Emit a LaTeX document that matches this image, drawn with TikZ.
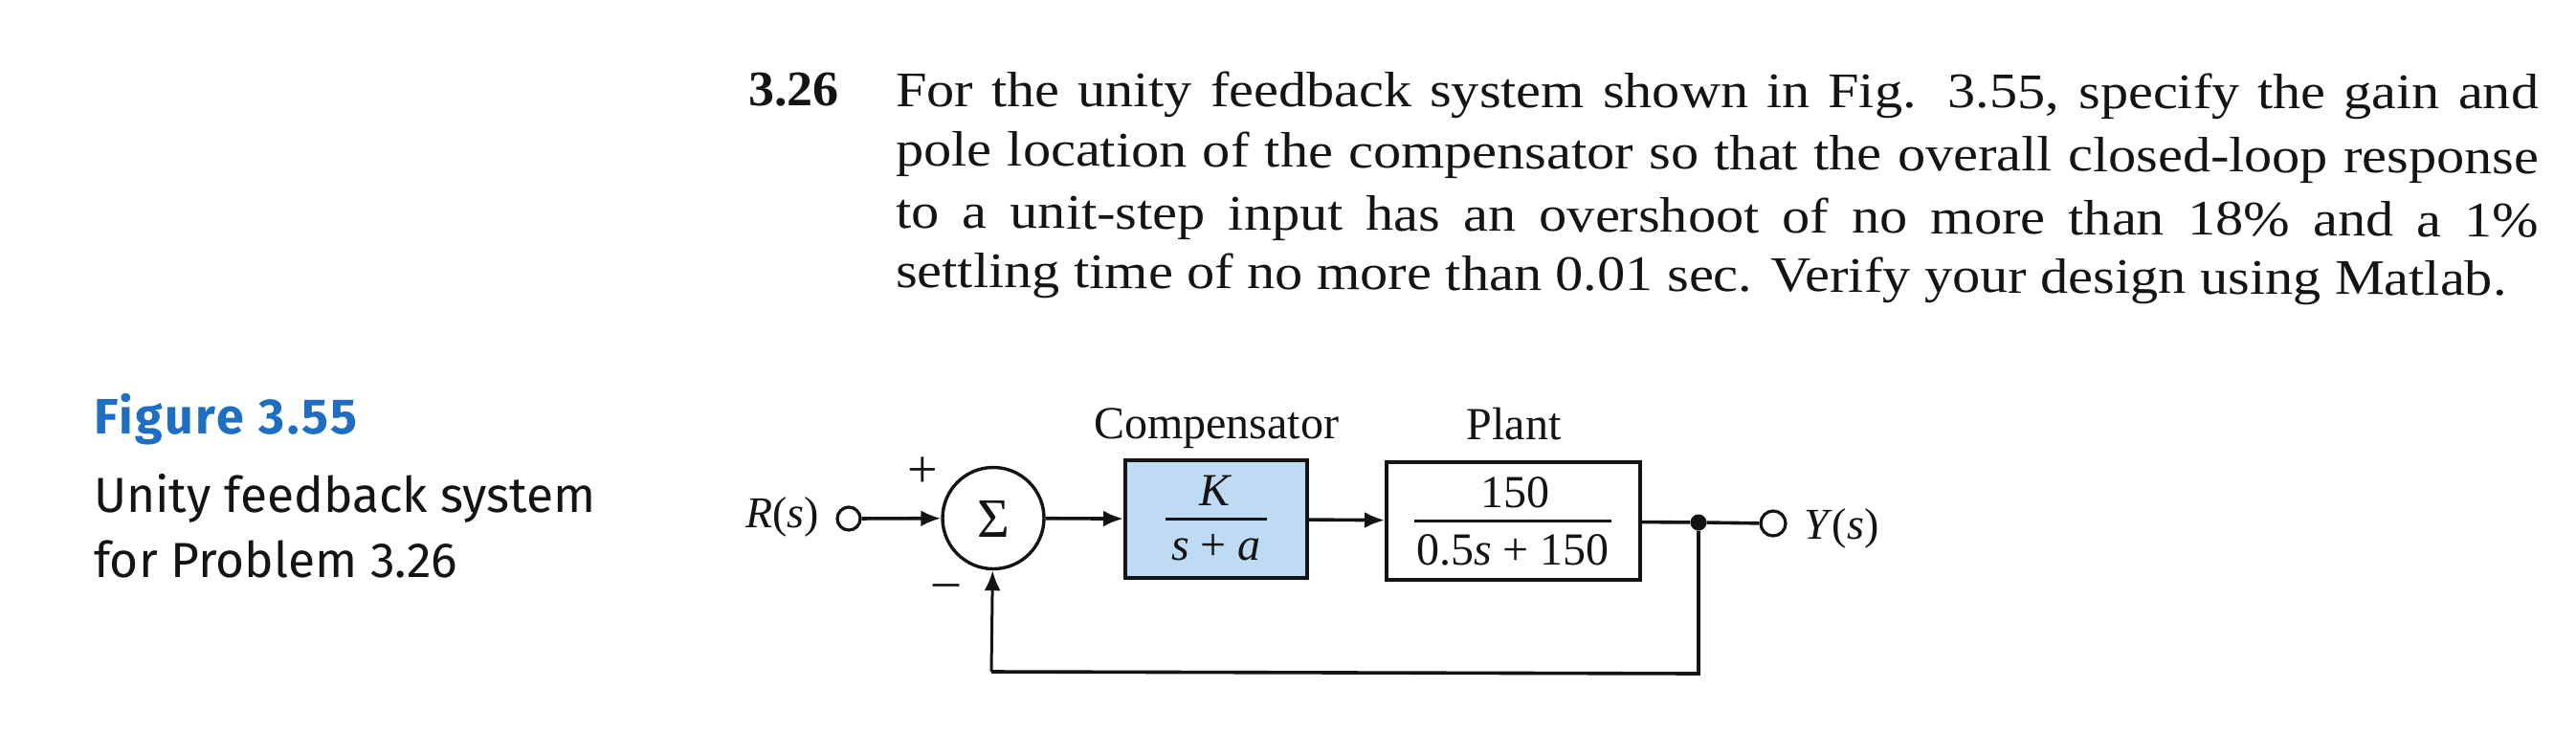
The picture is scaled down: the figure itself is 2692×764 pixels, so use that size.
\documentclass[tikz,border=0pt]{standalone}
\usepackage{fontspec}
\setmainfont{Liberation Serif}
\newfontfamily\capfont{Fira Sans}
\usetikzlibrary{arrows.meta}
\definecolor{capblue}{HTML}{1E6FC4}
\definecolor{compblue}{HTML}{BFDBF3}
\definecolor{inkc}{HTML}{141414}
\newcommand{\probline}[2]{\scalebox{1.12}[1]{\hbox to #1pt{#2}}}
\tikzset{
  prob/.style={anchor=base west,inner sep=0pt,text=inkc,font=\fontsize{52}{56}\selectfont},
  lab/.style={anchor=base,inner sep=0pt,text=inkc,font=\fontsize{48}{50}\selectfont},
  captext/.style={anchor=base west,inner sep=0pt,font=\capfont\fontsize{51.5}{56}\selectfont},
  block/.style={draw=inkc,line width=4pt,inner sep=0pt,anchor=center},
  port/.style={draw=inkc,line width=3.2pt,circle,inner sep=0pt,minimum size=24pt,fill=white},
  sig/.style={draw=inkc,line width=3.6pt,-{Latex[length=21pt,width=17pt]}},
  wire/.style={draw=inkc,line width=3.6pt},
  fracbar/.style={draw=inkc,line width=3pt},
}
\begin{document}
\begin{tikzpicture}[x=1pt,y=-1pt]
\useasboundingbox (0,0) rectangle (2692,764);
% problem text
\node[prob,font=\bfseries\fontsize{52}{56}\selectfont] (num) at (782,110) {\scalebox{1.04}[1]{3.26}};
\node[prob,rotate=-0.1] (l1) at (936,111) {\probline{1533}{For the unity feedback system shown in Fig. 3.55, specify the gain and}};
\node[prob,rotate=-0.28] (l2) at (936,173) {\probline{1533}{pole location of the compensator so that the overall closed-loop response}};
\node[prob,rotate=-0.33] (l3) at (936,238) {\probline{1533}{to a unit-step input has an overshoot of no more than 18\% and a 1\%}};
\node[prob,rotate=-0.3] (l4) at (936,300) {\probline{1503}{settling time of no more than 0.01 sec. Verify your design using Matlab.}};
% caption
\node[captext,text=capblue,font=\capfont\bfseries\fontsize{52}{56}\selectfont\addfontfeature{LetterSpace=5}] (c1) at (98,453) {Figure 3.55};
\node[captext,text=inkc] (c2) at (98,535) {Unity feedback system};
\node[captext,text=inkc] (c3) at (98,603) {for Problem 3.26};
% blocks
\node[block,fill=compblue,minimum width=190pt,minimum height=123pt] (comp) at (1271,542.5) {};
\node[block,fill=white,minimum width=265pt,minimum height=123pt] (plant) at (1581.5,544.5) {};
\node[draw=inkc,line width=3.4pt,circle,inner sep=0pt,minimum size=106pt,fill=white] (sum) at (1038,541.5) {};
\node[lab,font=\fontsize{58}{60}\selectfont] (sigma) at (1038,561) {Σ};
\node[port] (rin) at (887,542) {};
\node[port,minimum size=26pt] (yout) at (1853,547) {};
\node[circle,fill=inkc,inner sep=0pt,minimum size=17pt] (dot) at (1775,546) {};
\coordinate (fbr) at (1775,704);
\coordinate (fbl) at (1036,702);
% labels
\node[lab,anchor=base east,font=\fontsize{46}{50}\selectfont] (rlab) at (856,551) {\textit{R}(\textit{s})};
\node[lab,anchor=base west,font=\fontsize{46}{50}\selectfont] (ylab) at (1885,563) {\textit{Y}(\textit{s})};
\node[lab] (complab) at (1271,458) {Compensator};
\node[lab] (plantlab) at (1582,459) {Plant};
\node[lab,font=\fontsize{56}{60}\selectfont] (plus) at (964,509) {+};
\node[lab,font=\fontsize{54}{60}\selectfont] (minus) at (989,624) {–};
\node[lab] (k) at (1271,528) {\textit{K}};
\node[lab] (sa) at (1271,585) {\textit{s} + \textit{a}};
\node[lab] (n150) at (1583,530) {150};
\node[lab] (d150) at (1581,590) {0.5\textit{s} + 150};
\coordinate (b1l) at (1218,542);
\coordinate (b1r) at (1324,542);
\coordinate (b2l) at (1478,544);
\coordinate (b2r) at (1684,544);
\draw[fracbar] (b1l) -- (b1r);
\draw[fracbar] (b2l) -- (b2r);
% connectors
\draw[sig] (rin) -- (sum);
\draw[sig] (sum) -- (comp);
\draw[sig] (comp) -- (plant);
\draw[wire] (plant) -- (dot);
\draw[wire] (dot) -- (yout);
\draw[wire] (dot) -- (fbr) -- (fbl);
\draw[sig,line width=3pt] (fbl) -- (sum);
\end{tikzpicture}
\end{document}
